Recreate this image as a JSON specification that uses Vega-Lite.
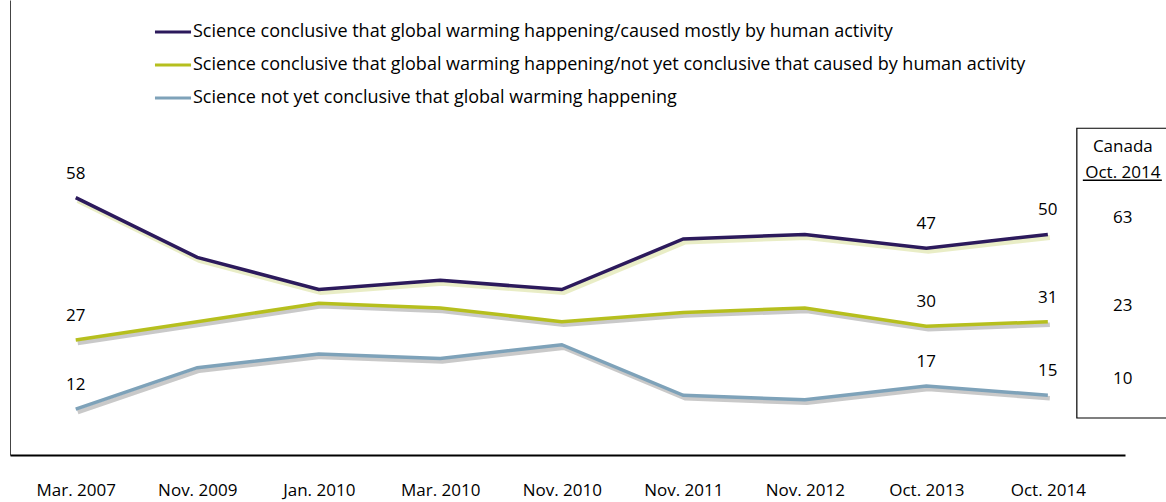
{
  "$schema": "https://vega.github.io/schema/vega-lite/v6.json",
  "width": 1115,
  "height": 455,
  "autosize": {"type": "none"},
  "padding": {"left": 10, "top": 0, "right": 41, "bottom": 47},
  "background": "white",
  "config": {"view": {"stroke": null}, "font": "Open Sans"},
  "data": {
    "values": [
      {"date": "Mar. 2007", "series": "Science conclusive that global warming happening/caused mostly by human activity", "value": 58},
      {"date": "Nov. 2009", "series": "Science conclusive that global warming happening/caused mostly by human activity", "value": 45},
      {"date": "Jan. 2010", "series": "Science conclusive that global warming happening/caused mostly by human activity", "value": 38},
      {"date": "Mar. 2010", "series": "Science conclusive that global warming happening/caused mostly by human activity", "value": 40},
      {"date": "Nov. 2010", "series": "Science conclusive that global warming happening/caused mostly by human activity", "value": 38},
      {"date": "Nov. 2011", "series": "Science conclusive that global warming happening/caused mostly by human activity", "value": 49},
      {"date": "Nov. 2012", "series": "Science conclusive that global warming happening/caused mostly by human activity", "value": 50},
      {"date": "Oct. 2013", "series": "Science conclusive that global warming happening/caused mostly by human activity", "value": 47},
      {"date": "Oct. 2014", "series": "Science conclusive that global warming happening/caused mostly by human activity", "value": 50, "canada": 63},
      {"date": "Mar. 2007", "series": "Science conclusive that global warming happening/not yet conclusive that caused by human activity", "value": 27},
      {"date": "Nov. 2009", "series": "Science conclusive that global warming happening/not yet conclusive that caused by human activity", "value": 31},
      {"date": "Jan. 2010", "series": "Science conclusive that global warming happening/not yet conclusive that caused by human activity", "value": 35},
      {"date": "Mar. 2010", "series": "Science conclusive that global warming happening/not yet conclusive that caused by human activity", "value": 34},
      {"date": "Nov. 2010", "series": "Science conclusive that global warming happening/not yet conclusive that caused by human activity", "value": 31},
      {"date": "Nov. 2011", "series": "Science conclusive that global warming happening/not yet conclusive that caused by human activity", "value": 33},
      {"date": "Nov. 2012", "series": "Science conclusive that global warming happening/not yet conclusive that caused by human activity", "value": 34},
      {"date": "Oct. 2013", "series": "Science conclusive that global warming happening/not yet conclusive that caused by human activity", "value": 30},
      {"date": "Oct. 2014", "series": "Science conclusive that global warming happening/not yet conclusive that caused by human activity", "value": 31, "canada": 23},
      {"date": "Mar. 2007", "series": "Science not yet conclusive that global warming happening", "value": 12},
      {"date": "Nov. 2009", "series": "Science not yet conclusive that global warming happening", "value": 21},
      {"date": "Jan. 2010", "series": "Science not yet conclusive that global warming happening", "value": 24},
      {"date": "Mar. 2010", "series": "Science not yet conclusive that global warming happening", "value": 23},
      {"date": "Nov. 2010", "series": "Science not yet conclusive that global warming happening", "value": 26},
      {"date": "Nov. 2011", "series": "Science not yet conclusive that global warming happening", "value": 15},
      {"date": "Nov. 2012", "series": "Science not yet conclusive that global warming happening", "value": 14},
      {"date": "Oct. 2013", "series": "Science not yet conclusive that global warming happening", "value": 17},
      {"date": "Oct. 2014", "series": "Science not yet conclusive that global warming happening", "value": 15, "canada": 10}
    ]
  },
  "encoding": {
    "x": {
      "field": "date",
      "type": "ordinal",
      "sort": null,
      "scale": {
        "type": "point",
        "domain": ["Mar. 2007", "Nov. 2009", "Jan. 2010", "Mar. 2010", "Nov. 2010", "Nov. 2011", "Nov. 2012", "Oct. 2013", "Oct. 2014"],
        "padding": 0.588,
        "align": 0.46
      },
      "axis": {
        "title": null,
        "ticks": false,
        "grid": false,
        "labelAngle": 0,
        "labelPadding": 27,
        "labelFontSize": 17,
        "labelColor": "black",
        "domainColor": "black",
        "domainWidth": 2
      }
    },
    "y": {
      "field": "value",
      "type": "quantitative",
      "scale": {"domain": [2, 101], "nice": false, "zero": false},
      "axis": {
        "title": null,
        "labels": false,
        "ticks": false,
        "grid": false,
        "domainColor": "#444444",
        "domainWidth": 1
      }
    }
  },
  "layer": [
    {
      "transform": [{"filter": "datum.canada === 63"}],
      "mark": {"type": "rect", "fill": "white", "fillOpacity": 0, "stroke": "black", "strokeWidth": 1.2, "xOffset": 29, "x2Offset": 122},
      "encoding": {
        "x2": {"field": "date"},
        "y": {"datum": 73.1},
        "y2": {"datum": 10.05}
      }
    },
    {
      "transform": [{"filter": "datum.canada === 63"}],
      "mark": {"type": "text", "text": "Canada", "fontSize": 17, "color": "black", "dx": 75},
      "encoding": {"y": {"datum": 69}}
    },
    {
      "transform": [{"filter": "datum.canada === 63"}],
      "mark": {"type": "text", "text": "Oct. 2014", "fontSize": 17, "color": "black", "dx": 75},
      "encoding": {"y": {"datum": 63.4}}
    },
    {
      "transform": [{"filter": "datum.canada === 63"}],
      "mark": {"type": "rule", "color": "black", "strokeWidth": 1.5, "xOffset": 35, "x2Offset": 114},
      "encoding": {"x2": {"field": "date"}, "y": {"datum": 61.8}}
    },
    {
      "transform": [{"filter": "datum.series === 'Science conclusive that global warming happening/caused mostly by human activity'"}],
      "mark": {"type": "line", "strokeWidth": 5, "xOffset": 2, "yOffset": 3, "color": "#e4e9b8", "opacity": 0.8},
      "encoding": {"detail": {"field": "series"}}
    },
    {
      "transform": [{"filter": "datum.series !== 'Science conclusive that global warming happening/caused mostly by human activity'"}],
      "mark": {"type": "line", "strokeWidth": 4.5, "xOffset": 2, "yOffset": 3, "color": "#9c9c9c", "opacity": 0.55},
      "encoding": {"detail": {"field": "series"}}
    },
    {
      "mark": {"type": "line", "strokeWidth": 3.5},
      "encoding": {
        "color": {
          "field": "series",
          "type": "nominal",
          "scale": {
            "domain": [
              "Science conclusive that global warming happening/caused mostly by human activity",
              "Science conclusive that global warming happening/not yet conclusive that caused by human activity",
              "Science not yet conclusive that global warming happening"
            ],
            "range": ["#2c1a5c", "#b6bf1e", "#7ea2b9"]
          },
          "legend": {
            "orient": "none",
            "legendX": 143,
            "legendY": 12,
            "title": null,
            "symbolType": "stroke",
            "symbolSize": 1300,
            "symbolStrokeWidth": 3,
            "labelFontSize": 18,
            "labelColor": "black",
            "labelOffset": 0,
            "labelLimit": 1000,
            "rowPadding": 4
          }
        }
      }
    },
    {
      "transform": [{"filter": {"field": "date", "oneOf": ["Mar. 2007", "Oct. 2013", "Oct. 2014"]}}],
      "mark": {"type": "text", "fontSize": 17, "color": "black", "dy": -24},
      "encoding": {"text": {"field": "value", "type": "quantitative"}}
    },
    {
      "transform": [{"filter": "isValid(datum.canada)"}],
      "mark": {"type": "text", "fontSize": 17, "color": "black", "dx": 75, "dy": -16},
      "encoding": {"text": {"field": "canada", "type": "quantitative"}}
    }
  ]
}
